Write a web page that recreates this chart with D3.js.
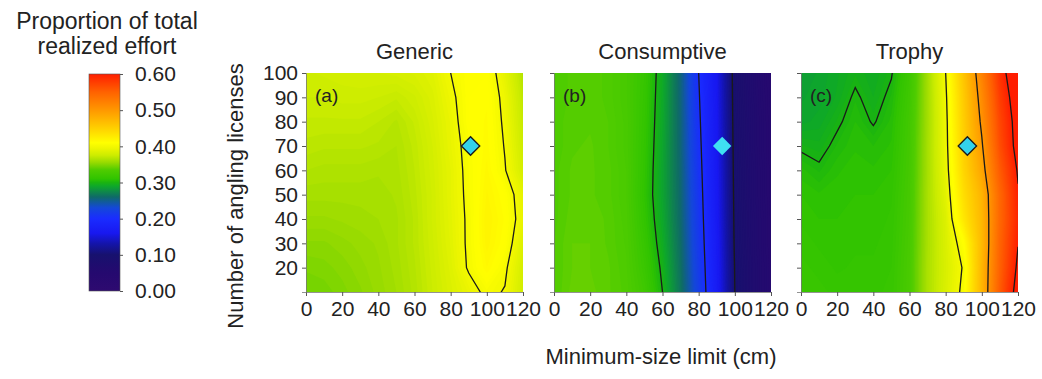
<!DOCTYPE html>
<html>
<head>
<meta charset="utf-8">
<script src="https://cdn.jsdelivr.net/npm/d3@7"></script>
<style>
  body { margin: 0; background: #fff; }
  text { font-family: "Liberation Sans", Arial, sans-serif; fill: #222; }
</style>
</head>
<body>
<div id="chart"></div>
<script>
// grid of the surfaces: columns = minimum-size limit, rows = licenses (top row first)
const xValues = [0, 10, 20, 30, 40, 50, 60, 70, 80, 90, 100, 110, 120];
const yValues = [100, 90, 80, 70, 60, 50, 40, 30, 20, 10];

const genericGrid = [
  [0.377, 0.378, 0.379, 0.380, 0.380, 0.381, 0.383, 0.387, 0.400, 0.410, 0.410, 0.390, 0.366],
  [0.375, 0.375, 0.376, 0.376, 0.375, 0.373, 0.377, 0.384, 0.396, 0.410, 0.412, 0.395, 0.370],
  [0.372, 0.372, 0.372, 0.372, 0.370, 0.367, 0.373, 0.382, 0.393, 0.410, 0.413, 0.397, 0.373],
  [0.369, 0.368, 0.368, 0.368, 0.367, 0.365, 0.371, 0.380, 0.392, 0.406, 0.414, 0.399, 0.376],
  [0.365, 0.364, 0.364, 0.364, 0.363, 0.364, 0.370, 0.379, 0.390, 0.405, 0.416, 0.401, 0.380],
  [0.361, 0.361, 0.361, 0.361, 0.361, 0.363, 0.369, 0.378, 0.390, 0.404, 0.418, 0.410, 0.390],
  [0.357, 0.357, 0.358, 0.359, 0.360, 0.362, 0.368, 0.378, 0.389, 0.403, 0.420, 0.412, 0.392],
  [0.352, 0.352, 0.354, 0.356, 0.358, 0.362, 0.368, 0.377, 0.388, 0.403, 0.419, 0.410, 0.385],
  [0.348, 0.349, 0.351, 0.354, 0.357, 0.361, 0.367, 0.376, 0.386, 0.402, 0.415, 0.403, 0.380],
  [0.345, 0.346, 0.349, 0.352, 0.356, 0.360, 0.366, 0.375, 0.384, 0.393, 0.404, 0.399, 0.378]
];

const consumptiveGrid = [
  [0.332, 0.336, 0.337, 0.334, 0.328, 0.315, 0.292, 0.255, 0.200, 0.160, 0.090, 0.065, 0.045],
  [0.332, 0.336, 0.337, 0.334, 0.328, 0.314, 0.291, 0.255, 0.202, 0.161, 0.091, 0.066, 0.046],
  [0.333, 0.337, 0.337, 0.335, 0.329, 0.313, 0.290, 0.256, 0.204, 0.162, 0.092, 0.067, 0.047],
  [0.333, 0.337, 0.338, 0.335, 0.329, 0.312, 0.289, 0.256, 0.206, 0.163, 0.093, 0.067, 0.047],
  [0.334, 0.338, 0.338, 0.336, 0.330, 0.311, 0.288, 0.257, 0.208, 0.164, 0.094, 0.068, 0.048],
  [0.334, 0.338, 0.338, 0.336, 0.330, 0.310, 0.288, 0.258, 0.210, 0.165, 0.095, 0.068, 0.048],
  [0.334, 0.339, 0.339, 0.337, 0.331, 0.312, 0.290, 0.259, 0.212, 0.166, 0.096, 0.069, 0.049],
  [0.335, 0.340, 0.340, 0.337, 0.332, 0.315, 0.293, 0.261, 0.214, 0.168, 0.097, 0.069, 0.049],
  [0.335, 0.340, 0.340, 0.338, 0.333, 0.318, 0.297, 0.263, 0.217, 0.169, 0.099, 0.070, 0.050],
  [0.335, 0.341, 0.341, 0.338, 0.334, 0.322, 0.300, 0.265, 0.220, 0.170, 0.100, 0.070, 0.050]
];

const trophyGrid = [
  [0.285, 0.288, 0.292, 0.297, 0.293, 0.299, 0.320, 0.360, 0.400, 0.460, 0.520, 0.585, 0.630],
  [0.287, 0.289, 0.293, 0.302, 0.295, 0.303, 0.322, 0.360, 0.397, 0.455, 0.512, 0.577, 0.620],
  [0.289, 0.291, 0.298, 0.305, 0.299, 0.306, 0.324, 0.360, 0.395, 0.452, 0.505, 0.570, 0.614],
  [0.298, 0.296, 0.303, 0.307, 0.305, 0.308, 0.325, 0.361, 0.394, 0.450, 0.497, 0.565, 0.612],
  [0.306, 0.302, 0.307, 0.309, 0.308, 0.310, 0.326, 0.361, 0.392, 0.445, 0.488, 0.555, 0.603],
  [0.310, 0.308, 0.309, 0.310, 0.310, 0.312, 0.327, 0.362, 0.388, 0.438, 0.475, 0.545, 0.597],
  [0.312, 0.310, 0.310, 0.311, 0.311, 0.313, 0.328, 0.362, 0.384, 0.430, 0.472, 0.545, 0.594],
  [0.314, 0.312, 0.311, 0.312, 0.312, 0.314, 0.329, 0.362, 0.383, 0.410, 0.470, 0.548, 0.599],
  [0.316, 0.314, 0.312, 0.313, 0.313, 0.315, 0.330, 0.363, 0.382, 0.402, 0.473, 0.550, 0.606],
  [0.318, 0.316, 0.314, 0.314, 0.314, 0.316, 0.330, 0.363, 0.383, 0.405, 0.473, 0.555, 0.615]
];

const panelTitles = ["Generic", "Consumptive", "Trophy"];
const panelLabels = ["(a)", "(b)", "(c)"];
const panelGrids = [genericGrid, consumptiveGrid, trophyGrid];
const contourLevels = [[0.4], [0.1, 0.2, 0.3], [0.3, 0.4, 0.5, 0.6]];
const markerX = [91, 93, 92];
const markerY = [70, 70, 70];

const xTicks = [0, 20, 40, 60, 80, 100, 120];
const yTicks = [20, 30, 40, 50, 60, 70, 80, 90, 100];
const legendTicks = [0, 0.1, 0.2, 0.3, 0.4, 0.5, 0.6];

// colour map
const colorDomain = [0, 0.05, 0.10, 0.13, 0.16, 0.20, 0.23, 0.26, 0.29, 0.30, 0.31, 0.335, 0.355, 0.375, 0.395, 0.41, 0.45, 0.50, 0.55, 0.60];
const colorRange = ["#2e0a70", "#25096f", "#17116e", "#1414a8", "#1818f0", "#1a2cff", "#1448d8", "#0f6a68",
  "#0ea82a", "#1ab410", "#30c400", "#50cc00", "#96da00", "#ccec00", "#eef600", "#ffff00",
  "#ffd000", "#ff9800", "#ff6200", "#ff1e00"];
const color = d3.scaleLinear().domain(colorDomain).range(colorRange).clamp(true);

const width = 1042, height = 379;
const panelLeft = [306, 554, 801];
const panelTop = 73, panelW = 217, panelH = 219;

const svg = d3.select("#chart").append("svg")
  .attr("width", width)
  .attr("height", height);
const defs = svg.append("defs");

const fillThresholds = d3.range(0, 0.64, 0.0025);
const nx = xValues.length, ny = yValues.length;
// contour grid coords -> data values (samples sit at cell centres)
const gx = d3.scaleLinear().domain([0.5, nx - 0.5]).range([xValues[0], xValues[nx - 1]]);
const gy = d3.scaleLinear().domain([0.5, ny - 0.5]).range([yValues[0], yValues[ny - 1]]);

panelGrids.forEach(function(grid, p) {
  const x = d3.scaleLinear().domain([0, 120]).range([panelLeft[p], panelLeft[p] + panelW]);
  const y = d3.scaleLinear().domain([10, 100]).range([panelTop + panelH, panelTop]);
  const path = d3.geoPath(d3.geoTransform({
    point: function(px, py) { this.stream.point(x(gx(px)), y(gy(py))); }
  }));
  const values = grid.flat();

  defs.append("clipPath").attr("id", "clip" + p)
    .append("rect")
    .attr("x", x(0)).attr("y", y(100))
    .attr("width", x(120) - x(0)).attr("height", y(10) - y(100));

  const g = svg.append("g").attr("clip-path", "url(#clip" + p + ")");
  g.append("rect")
    .attr("x", x(0)).attr("y", y(100))
    .attr("width", x(120) - x(0)).attr("height", y(10) - y(100))
    .attr("fill", color(d3.min(values)));

  g.selectAll("path.band")
    .data(d3.contours().size([nx, ny]).thresholds(fillThresholds)(values))
    .enter().append("path")
    .attr("class", "band")
    .attr("d", path)
    .attr("fill", function(d) { return color(d.value + 0.00125); });

  g.selectAll("path.iso")
    .data(d3.contours().size([nx, ny]).thresholds(contourLevels[p])(values))
    .enter().append("path")
    .attr("class", "iso")
    .attr("d", path)
    .attr("fill", "none")
    .attr("stroke", "#1a1a1a")
    .attr("stroke-width", 1.3);

  // status-quo marker
  svg.append("path")
    .attr("d", d3.symbol(d3.symbolSquare, 170)())
    .attr("transform", "translate(" + x(markerX[p]) + "," + y(markerY[p]) + ") rotate(45)")
    .attr("fill", p === 1 ? "#3fe0f2" : "#33d2ea")
    .attr("stroke", p === 1 ? "none" : "#1a1a1a")
    .attr("stroke-width", 1.3);

  svg.append("text")
    .attr("x", x(0) + 9).attr("y", y(100) + 29)
    .style("font-size", "19px")
    .text(panelLabels[p]);

  svg.append("text")
    .attr("x", (x(0) + x(120)) / 2).attr("y", 59)
    .attr("text-anchor", "middle")
    .style("font-size", "22px")
    .text(panelTitles[p]);

  const xAxis = svg.append("g")
    .attr("transform", "translate(0," + (panelTop + panelH) + ")")
    .call(d3.axisBottom(x).tickValues(xTicks).tickSize(4).tickPadding(5));
  xAxis.selectAll("text").style("font-size", "21px").attr("fill", "#222");

  const yAxis = svg.append("g")
    .attr("transform", "translate(" + panelLeft[p] + ",0)")
    .call(d3.axisLeft(y).tickValues(yTicks).tickSize(4).tickPadding(4)
      .tickFormat(p === 0 ? d3.format("d") : ""));
  yAxis.selectAll("text").style("font-size", "21px").attr("fill", "#222");

  svg.selectAll(".domain").attr("stroke", "#777").attr("stroke-width", 0.8);
  svg.selectAll(".tick line").attr("stroke", "#555");
});

// axis titles
svg.append("text")
  .attr("transform", "translate(243," + 196 + ") rotate(-90)")
  .attr("text-anchor", "middle")
  .style("font-size", "22px")
  .text("Number of angling licenses");

svg.append("text")
  .attr("x", 661).attr("y", 364)
  .attr("text-anchor", "middle")
  .style("font-size", "22px")
  .text("Minimum-size limit (cm)");

// legend
const legendX = 89, legendW = 31;
const ly = d3.scaleLinear().domain([0, 0.6]).range([291, 74]);
const grad = defs.append("linearGradient").attr("id", "legendGrad")
  .attr("x1", 0).attr("y1", 1).attr("x2", 0).attr("y2", 0);
grad.selectAll("stop")
  .data(colorDomain)
  .enter().append("stop")
  .attr("offset", function(d) { return d / 0.6; })
  .attr("stop-color", function(d) { return color(d); });

svg.append("rect")
  .attr("x", legendX).attr("y", ly(0.6))
  .attr("width", legendW).attr("height", ly(0) - ly(0.6))
  .attr("fill", "url(#legendGrad)")
  .attr("stroke", "#555").attr("stroke-width", 0.6);

const legendAxis = svg.append("g")
  .attr("transform", "translate(" + (legendX + legendW) + ",0)")
  .call(d3.axisRight(ly).tickValues(legendTicks).tickSize(3).tickPadding(12).tickFormat(d3.format(".2f")));
legendAxis.select(".domain").remove();
legendAxis.selectAll("text").style("font-size", "21px").attr("fill", "#222");
legendAxis.selectAll(".tick line").attr("stroke", "#555");

svg.append("text")
  .attr("x", 107).attr("y", 29)
  .attr("text-anchor", "middle")
  .style("font-size", "23px")
  .text("Proportion of total");
svg.append("text")
  .attr("x", 107).attr("y", 54)
  .attr("text-anchor", "middle")
  .style("font-size", "23px")
  .text("realized effort");
</script>
</body>
</html>
